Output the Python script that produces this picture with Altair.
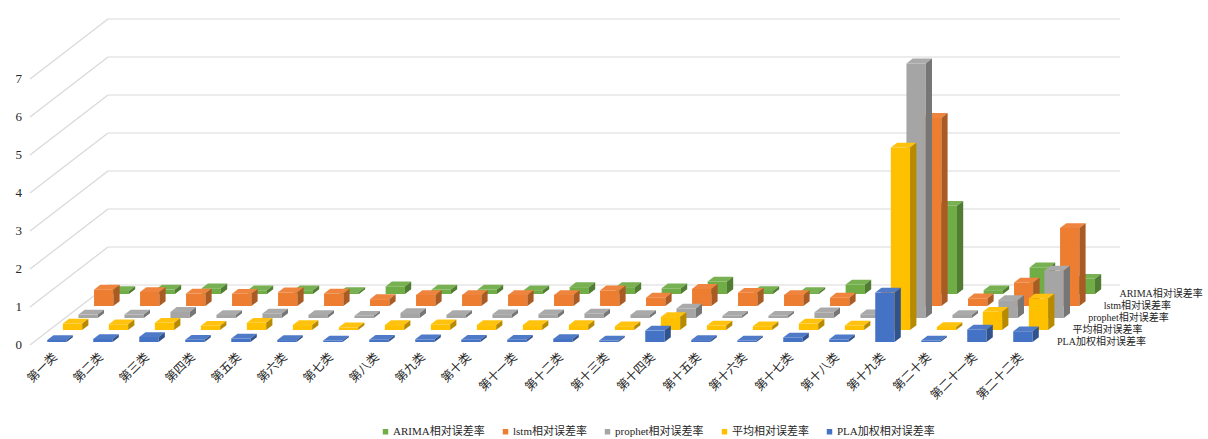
import altair as alt
import pandas as pd

# ---- data ---------------------------------------------------------------
categories = ["第一类", "第二类", "第三类", "第四类", "第五类", "第六类", "第七类",
              "第八类", "第九类", "第十类", "第十一类", "第十二类", "第十三类",
              "第十四类", "第十五类", "第十六类", "第十七类", "第十八类",
              "第十九类", "第二十类", "第二十一类", "第二十二类"]

# series listed front row to back row
series_names = ["PLA加权相对误差率", "平均相对误差率", "prophet相对误差率",
                "lstm相对误差率", "ARIMA相对误差率"]

pla = [0.05, 0.08, 0.13, 0.06, 0.09, 0.05, 0.04, 0.06, 0.07, 0.06, 0.06,
       0.08, 0.04, 0.30, 0.05, 0.04, 0.12, 0.07, 1.30, 0.04, 0.33, 0.28]
avg = [0.17, 0.15, 0.19, 0.11, 0.19, 0.13, 0.07, 0.13, 0.15, 0.13, 0.13,
       0.13, 0.10, 0.34, 0.12, 0.10, 0.17, 0.12, 4.80, 0.08, 0.48, 0.83]
prophet = [0.09, 0.09, 0.16, 0.08, 0.12, 0.08, 0.06, 0.13, 0.08, 0.10, 0.10,
           0.12, 0.08, 0.25, 0.06, 0.06, 0.15, 0.10, 6.70, 0.08, 0.47, 1.25]
lstm = [0.43, 0.37, 0.33, 0.32, 0.36, 0.33, 0.18, 0.29, 0.29, 0.29, 0.29,
        0.41, 0.22, 0.45, 0.35, 0.29, 0.22, 0.25, 4.95, 0.20, 0.62, 2.05]
arima = [0.08, 0.12, 0.15, 0.10, 0.10, 0.05, 0.20, 0.12, 0.12, 0.10, 0.18,
         0.18, 0.15, 0.33, 0.08, 0.05, 0.25, 0.10, 2.32, 0.10, 0.70, 0.40]

y_ticks = [0, 1, 2, 3, 4, 5, 6, 7]

series_values = [pla, avg, prophet, lstm, arima]
base_colors = ["#4472C4", "#FFC000", "#A5A5A5", "#ED7D31", "#70AD47"]
legend_order = ["ARIMA相对误差率", "lstm相对误差率", "prophet相对误差率",
                "平均相对误差率", "PLA加权相对误差率"]
legend_colors = ["#70AD47", "#ED7D31", "#A5A5A5", "#FFC000", "#4472C4"]

# ---- oblique projection (category units on x, value units on y) ---------
PX_X, PX_Y = 46.0, 38.0          # pixels per category / per value unit
DX, DY = 78 / PX_X, 60 / PX_Y     # full-depth shift
BAR_W = 0.42
ROW = 0.2
BAR_D = 0.08
N = len(categories)

W, H = 1208, 439
x_dom = [-30 / PX_X, (W - 30) / PX_X]
y_dom = [-(H - 345) / PX_Y, 345 / PX_Y]
xs = alt.Scale(domain=x_dom, range=[0, W], nice=False, zero=False)
ys = alt.Scale(domain=y_dom, range=[H, 0], nice=False, zero=False)


def shade(hex_color, f):
    r, g, b = (int(hex_color[j:j + 2], 16) for j in (1, 3, 5))
    if f < 1:
        r, g, b = (int(c * f) for c in (r, g, b))
    else:
        t = f - 1
        r, g, b = (int(c + (255 - c) * t) for c in (r, g, b))
    return "#{:02x}{:02x}{:02x}".format(r, g, b)


front_rows, top_rows, side_rows = [], [], []
for k, (name, vals) in enumerate(zip(series_names, series_values)):
    z0 = ROW * k + 0.05
    z1 = z0 + BAR_D
    for i, v in enumerate(vals):
        bid = f"{k}-{i}"
        xl = i + 0.5 - BAR_W / 2
        xr = i + 0.5 + BAR_W / 2
        front_rows.append(dict(k=k, series=name, cat=categories[i], v=v,
                               x1=xl + z0 * DX, x2=xr + z0 * DX,
                               y1=z0 * DY, y2=v + z0 * DY))
        top_col = shade(base_colors[k], 1.06)
        for z in (z0, z1):
            top_rows.append(dict(k=k, bid=bid, fill=top_col,
                                 ty=v + z * DY, tx1=xl + z * DX, tx2=xr + z * DX))
        side_col = shade(base_colors[k], 0.72)
        for z in (z0, z1):
            side_rows.append(dict(k=k, bid=bid, fill=side_col,
                                  sx=xr + z * DX, sy1=z * DY, sy2=v + z * DY))

front_df = pd.DataFrame(front_rows)
top_df = pd.DataFrame(top_rows)
side_df = pd.DataFrame(side_rows)

FONT = "Liberation Serif, Noto Sans CJK SC"
TXT = "#262626"
GRID = "#D9D9D9"

# ---- walls ---------------------------------------------------------------
grid_df = pd.DataFrame({"v": y_ticks})
back_wall = alt.Chart(grid_df).transform_calculate(
    xa=f"{DX}", xb=f"{N + DX}", yv=f"datum.v + {DY}"
).mark_rule(color=GRID, strokeWidth=1.2).encode(
    x=alt.X("xa:Q", scale=xs, axis=None),
    x2="xb:Q",
    y=alt.Y("yv:Q", scale=ys, axis=None),
)
side_wall = alt.Chart(grid_df).transform_calculate(
    xa="0", xb=f"{DX}", yb=f"datum.v + {DY}"
).mark_rule(color=GRID, strokeWidth=1.2).encode(
    x=alt.X("xa:Q", scale=xs, axis=None),
    x2="xb:Q",
    y=alt.Y("v:Q", scale=ys, axis=None),
    y2="yb:Q",
)

# ---- bars, drawn back row first -----------------------------------------
bar_layers = []
for k in reversed(range(len(series_names))):
    front = alt.Chart(front_df).transform_filter(f"datum.k == {k}").mark_rect().encode(
        x=alt.X("x1:Q", scale=xs, axis=None),
        x2="x2:Q",
        y=alt.Y("y1:Q", scale=ys, axis=None),
        y2="y2:Q",
        color=alt.Color("series:N", title=None,
                        scale=alt.Scale(domain=legend_order, range=legend_colors),
                        legend=alt.Legend(orient="none", direction="horizontal",
                                          legendX=380, legendY=426,
                                          symbolType="square", symbolSize=30,
                                          symbolStrokeWidth=0,
                                          labelFont=FONT, labelFontSize=11,
                                          labelColor=TXT, labelOffset=2,
                                          columnPadding=15)),
    )
    top = alt.Chart(top_df).transform_filter(f"datum.k == {k}").mark_area(
        orient="horizontal").encode(
        y=alt.Y("ty:Q", scale=ys, axis=None),
        x=alt.X("tx1:Q", scale=xs, axis=None, stack=None),
        x2="tx2:Q",
        detail="bid:N",
        fill=alt.Fill("fill:N", scale=None),
    )
    side = alt.Chart(side_df).transform_filter(f"datum.k == {k}").mark_area(
        orient="vertical").encode(
        x=alt.X("sx:Q", scale=xs, axis=None),
        y=alt.Y("sy1:Q", scale=ys, axis=None, stack=None),
        y2="sy2:Q",
        detail="bid:N",
        fill=alt.Fill("fill:N", scale=None),
    )
    bar_layers += [front, top, side]

# ---- text ---------------------------------------------------------------
ylab = alt.Chart(grid_df).transform_calculate(
    xp=f"{-8 / PX_X}", lab="datum.v + ''"
).mark_text(align="right", baseline="middle", font=FONT, fontSize=13,
            color=TXT).encode(
    x=alt.X("xp:Q", scale=xs, axis=None),
    y=alt.Y("v:Q", scale=ys, axis=None),
    text="lab:N",
)

cat_df = pd.DataFrame({"cat": categories, "i": list(range(N))})
xlab = alt.Chart(cat_df).transform_calculate(
    xp=f"datum.i + 0.5 + {2 / PX_X}", yp=f"{-10 / PX_Y}"
).mark_text(align="right", baseline="middle", angle=315, font=FONT,
            fontSize=12, color=TXT).encode(
    x=alt.X("xp:Q", scale=xs, axis=None),
    y=alt.Y("yp:Q", scale=ys, axis=None),
    text="cat:N",
)

depth_df = pd.DataFrame({"series": series_names, "k": list(range(len(series_names)))})
zlab = alt.Chart(depth_df).transform_calculate(
    zc=f"{ROW} * datum.k + 0.09",
    xp=f"{N} + datum.zc * {DX} + {8 / PX_X}",
    yp=f"datum.zc * {DY} - {2 / PX_Y}",
).mark_text(align="left", baseline="middle", font=FONT, fontSize=10,
            color=TXT).encode(
    x=alt.X("xp:Q", scale=xs, axis=None),
    y=alt.Y("yp:Q", scale=ys, axis=None),
    text="series:N",
)

chart = alt.layer(back_wall, side_wall, *bar_layers, ylab, xlab, zlab).properties(
    width=W, height=H, padding=0, autosize="none", background="white"
).configure_view(strokeWidth=0)

chart.save("out.html", embed_options={"renderer": "svg", "actions": False})
